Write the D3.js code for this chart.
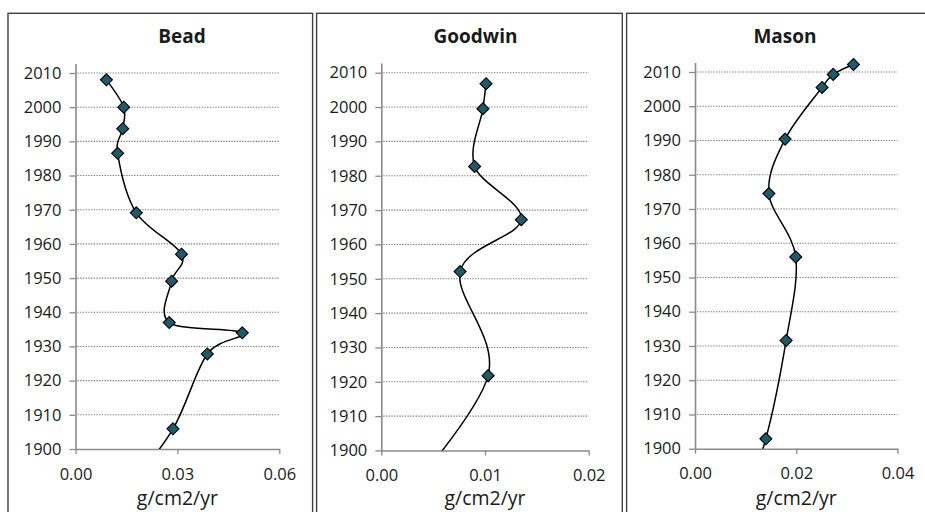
<!DOCTYPE html>
<html>
<head>
<meta charset="utf-8">
<script src="https://cdn.jsdelivr.net/npm/d3@7"></script>
<style>
  html, body { margin: 0; padding: 0; background: #ffffff; }
  svg { display: block; }
  text { font-family: "Open Sans", Lato, sans-serif; fill: #1a1a1a; }
</style>
</head>
<body>
<svg id="chart" width="925" height="512"></svg>
<script>
// ---- data ----
const panelTitles = ["Bead", "Goodwin", "Mason"];
const xAxisTitle = "g/cm2/yr";
const yearTicks = [1900, 1910, 1920, 1930, 1940, 1950, 1960, 1970, 1980, 1990, 2000, 2010];
const beadTicks = [0, 0.03, 0.06];
const goodwinTicks = [0, 0.01, 0.02];
const masonTicks = [0, 0.02, 0.04];

const beadYears  = [2008.0, 2000.0, 1993.7, 1986.5, 1969.1, 1957.0, 1949.1, 1937.0, 1934.0, 1927.8, 1905.9, 1888.0];
const beadValues = [0.0091, 0.0142, 0.0139, 0.0124, 0.0179, 0.0312, 0.0283, 0.0276, 0.0491, 0.0388, 0.0287, 0.0150];

const goodwinYears  = [2006.8, 1999.5, 1982.7, 1967.2, 1952.1, 1921.8, 1885.0];
const goodwinValues = [0.0101, 0.0098, 0.0090, 0.0135, 0.0076, 0.0103, 0.0018];

const masonYears  = [2012.2, 2009.3, 2005.5, 1990.4, 1974.5, 1956.0, 1931.6, 1902.9, 1890.0];
const masonValues = [0.0313, 0.0273, 0.0251, 0.0178, 0.0146, 0.0199, 0.0180, 0.0140, 0.0105];

// ---- layout ----
const layout = [
  { box: [8, 13.3, 312.6], plotX: [75.5, 279.3], plotY: [449, 73], titleX: 182 },
  { box: [316.6, 13.3, 622.3], plotX: [381.3, 588.7], plotY: [450.5, 72.7], titleX: 475.5 },
  { box: [626.6, 13.3, 940], plotX: [695, 897.5], plotY: [448.7, 72], titleX: 785 }
];
const panelData = [
  { years: beadYears, values: beadValues, ticks: beadTicks },
  { years: goodwinYears, values: goodwinValues, ticks: goodwinTicks },
  { years: masonYears, values: masonValues, ticks: masonTicks }
];

const svg = d3.select("#chart");
const defs = svg.append("defs");

panelData.forEach((pd, i) => {
  const L = layout[i];
  const g = svg.append("g");

  // panel border
  g.append("rect")
    .attr("x", L.box[0]).attr("y", L.box[1])
    .attr("width", L.box[2] - L.box[0]).attr("height", 540)
    .attr("fill", "none").attr("stroke", "#404040").attr("stroke-width", 1.4);

  const x = d3.scaleLinear().domain([0, pd.ticks[pd.ticks.length - 1]]).range(L.plotX);
  const y = d3.scaleLinear().domain([1900, 2010]).range(L.plotY);
  const yTop = 2012.8;

  // gridlines
  g.append("g").selectAll("line")
    .data(yearTicks.filter(t => t > 1900))
    .join("line")
    .attr("x1", L.plotX[0] + 2).attr("x2", L.plotX[1])
    .attr("y1", d => y(d)).attr("y2", d => y(d))
    .attr("stroke", "#7a7a7a").attr("stroke-width", 1.1)
    .attr("stroke-dasharray", "1.3,1.4");

  // y axis
  const yAxisScale = y.copy().domain([1900, yTop]).range([L.plotY[0], y(yTop)]);
  const ya = g.append("g")
    .attr("transform", `translate(${L.plotX[0]},0)`)
    .call(d3.axisLeft(yAxisScale).tickValues(yearTicks).tickFormat(d3.format("d"))
      .tickSize(6).tickSizeOuter(0).tickPadding(8));
  ya.select(".domain").attr("stroke", "#8a8a8a").attr("stroke-width", 1.6);
  ya.selectAll(".tick line").attr("stroke", "#8a8a8a").attr("stroke-width", 1.3);
  ya.selectAll(".tick text").attr("font-size", 16.5).attr("font-family", "'Open Sans'").attr("fill", "#1a1a1a");

  // x axis
  const xa = g.append("g")
    .attr("transform", `translate(0,${L.plotY[0]})`)
    .call(d3.axisBottom(x).tickValues(pd.ticks).tickFormat(d3.format(".2f"))
      .tickSize(5).tickSizeOuter(0).tickPadding(14));
  xa.select(".domain").attr("stroke", "#8a8a8a").attr("stroke-width", 1.6);
  xa.selectAll(".tick line").attr("stroke", "#8a8a8a").attr("stroke-width", 1.3);
  xa.selectAll(".tick text").attr("font-size", 16.5).attr("font-family", "'Open Sans'").attr("fill", "#1a1a1a");

  // titles
  g.append("text")
    .attr("x", L.titleX).attr("y", 43)
    .attr("text-anchor", "middle")
    .attr("font-size", 19).attr("font-weight", "bold")
    .text(panelTitles[i]);
  g.append("text")
    .attr("x", (L.plotX[0] + L.plotX[1]) / 2).attr("y", 505)
    .attr("text-anchor", "middle")
    .attr("font-size", 19.5)
    .text(xAxisTitle);

  // clip for the smoothed line
  const clipId = "clip" + i;
  defs.append("clipPath").attr("id", clipId)
    .append("rect")
    .attr("x", L.plotX[0]).attr("y", y(yTop))
    .attr("width", L.plotX[1] - L.plotX[0])
    .attr("height", L.plotY[0] - y(yTop));

  const pts = pd.years.map((yr, k) => ({ year: yr, value: pd.values[k] }));
  const line = d3.line()
    .x(d => x(d.value)).y(d => y(d.year))
    .curve(d3.curveCardinal.tension(0));
  g.append("path")
    .attr("d", line(pts))
    .attr("clip-path", `url(#${clipId})`)
    .attr("fill", "none").attr("stroke", "#000").attr("stroke-width", 1.5);

  // markers
  g.append("g").selectAll("path")
    .data(pts.filter(d => d.year >= 1900))
    .join("path")
    .attr("transform", d => `translate(${x(d.value)},${y(d.year)})`)
    .attr("d", "M0,-6L6,0L0,6L-6,0Z")
    .attr("fill", "#22596a").attr("stroke", "#000").attr("stroke-width", 1.1);
});
</script>
</body>
</html>
